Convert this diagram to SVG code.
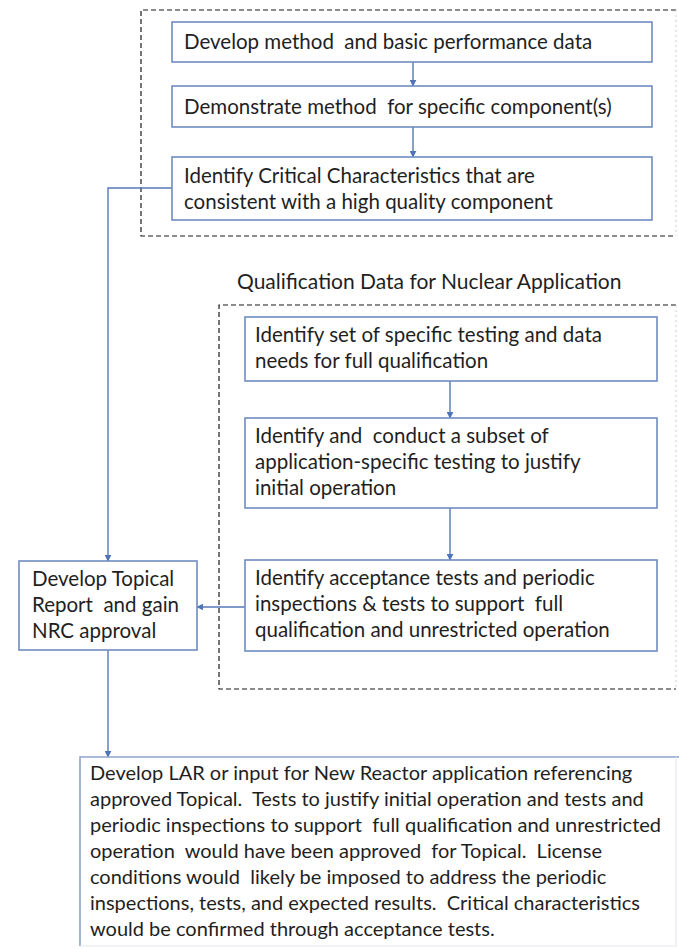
<svg xmlns="http://www.w3.org/2000/svg" width="679" height="949" viewBox="0 0 679 949" xml:space="preserve">
  <defs>
    <marker id="arrow" viewBox="0 0 10 10" refX="9" refY="5" markerWidth="7" markerHeight="7" markerUnits="userSpaceOnUse" orient="auto">
      <path d="M0,0 L10,5 L0,10 z" fill="#4f75b8"/>
    </marker>
    <style>
      .box { fill: #ffffff; stroke: #6f8dc0; stroke-width: 1.6; }
      .group { fill: none; stroke: #1a1a1a; stroke-width: 1.2; stroke-dasharray: 5 3; }
      .groupfaint { fill: none; stroke: #d0d0d0; stroke-width: 1; stroke-dasharray: 2 3; }
      .link { fill: none; stroke: #5578b8; stroke-width: 1.4; marker-end: url(#arrow); }
      text { font-family: "Lato", "Open Sans", "Liberation Sans", sans-serif; font-size: 20.5px; fill: #1f1f1f; white-space: pre; }
      .label { font-size: 21px; }
      .small { font-size: 20px; }
    </style>
  </defs>
  <rect width="679" height="949" fill="#ffffff"/>

  <!-- dashed groupings -->
  <g id="group-method">
    <path class="group" d="M676,10 H141 V236 H676"/>
    <path class="groupfaint" d="M676,10 V236"/>
  </g>
  <g id="group-qualification">
    <text class="label" x="237" y="289">Qualification Data for Nuclear Application</text>
    <path class="group" d="M676,305 H219 V689 H676"/>
    <path class="groupfaint" d="M676,305 V689"/>
  </g>

  <!-- connectors -->
  <g id="connectors">
    <path class="link" d="M413,62 V86"/>
    <path class="link" d="M413,127 V157"/>
    <path class="link" d="M172,188 H108 V561"/>
    <path class="link" d="M450,381 V418"/>
    <path class="link" d="M450,508 V560"/>
    <path class="link" d="M245,607 H197"/>
    <path class="link" d="M108,650 V757"/>
  </g>

  <g id="develop-method">
    <rect class="box" x="172" y="22" width="480" height="40"/>
    <text x="184" y="49">Develop method  and basic performance data</text>
  </g>
  <g id="demonstrate-method">
    <rect class="box" x="172" y="86" width="480" height="41"/>
    <text x="184" y="114">Demonstrate method  for specific component(s)</text>
  </g>
  <g id="critical-characteristics">
    <rect class="box" x="172" y="157" width="480" height="63"/>
    <text x="184" y="183">Identify Critical Characteristics that are</text>
    <text x="184" y="209">consistent with a high quality component</text>
  </g>

  <g id="testing-needs">
    <rect class="box" x="245" y="317" width="412" height="64"/>
    <text x="255" y="342">Identify set of specific testing and data</text>
    <text x="255" y="368">needs for full qualification</text>
  </g>
  <g id="subset-testing">
    <rect class="box" x="245" y="418" width="412" height="90"/>
    <text x="255" y="443">Identify and  conduct a subset of</text>
    <text x="255" y="469">application-specific testing to justify</text>
    <text x="255" y="495">initial operation</text>
  </g>
  <g id="acceptance-tests">
    <rect class="box" x="245" y="560" width="412" height="91"/>
    <text x="255" y="585">Identify acceptance tests and periodic</text>
    <text x="255" y="611">inspections &amp; tests to support  full</text>
    <text x="255" y="637">qualification and unrestricted operation</text>
  </g>

  <g id="topical-report">
    <rect class="box" x="19" y="561" width="178" height="89"/>
    <text x="32" y="586">Develop Topical</text>
    <text x="32" y="612">Report  and gain</text>
    <text x="32" y="638">NRC approval</text>
  </g>

  <g id="lar-application">
    <path d="M80,946 V757 H679" fill="none" stroke="#8ea4cc" stroke-width="1.6"/>
    <path d="M676,757 V946 H80" fill="none" stroke="#e2e6ee" stroke-width="1"/>
    <text class="small" x="90" y="780">Develop LAR or input for New Reactor application referencing</text>
    <text class="small" x="90" y="806">approved Topical.  Tests to justify initial operation and tests and</text>
    <text class="small" x="90" y="832">periodic inspections to support  full qualification and unrestricted</text>
    <text class="small" x="90" y="858">operation  would have been approved  for Topical.  License</text>
    <text class="small" x="90" y="884">conditions would  likely be imposed to address the periodic</text>
    <text class="small" x="90" y="910">inspections, tests, and expected results.  Critical characteristics</text>
    <text class="small" x="90" y="936">would be confirmed through acceptance tests.</text>
  </g>
</svg>
